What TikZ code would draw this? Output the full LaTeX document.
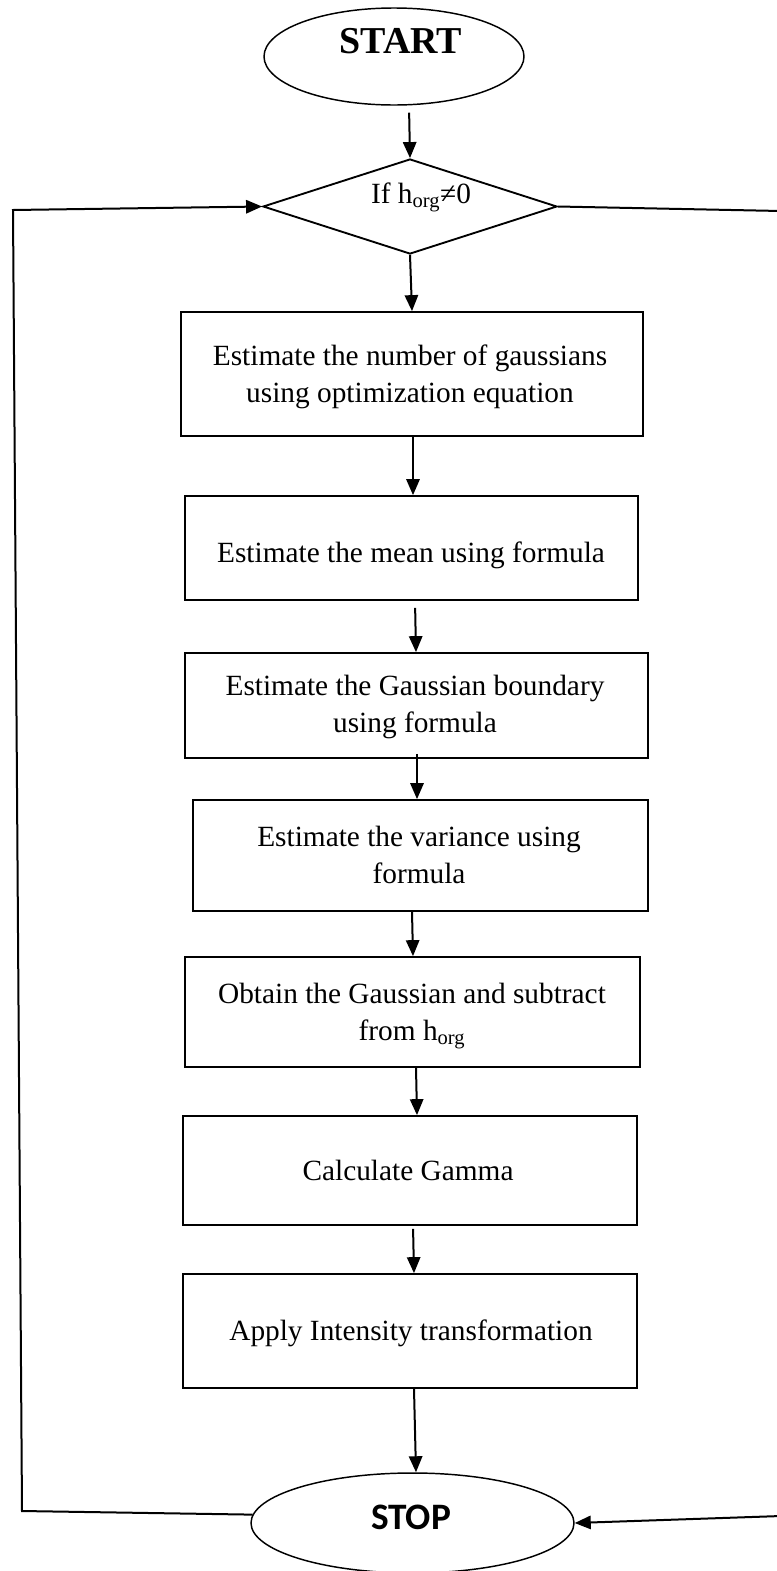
\documentclass[tikz,border=0pt]{standalone}
\usepackage{fontspec}
\setmainfont{Liberation Serif}
\newfontfamily\calib{Carlito}
\usetikzlibrary{shapes.geometric,arrows.meta}
\begin{document}
\begin{tikzpicture}[x=0.75pt,y=-0.75pt,
  box/.style={draw, rectangle, line width=1.3pt, inner sep=0pt},
  txt/.style={font=\fontsize{22}{27.75}\selectfont, align=center, inner sep=0pt},
  arr/.style={-{Triangle[length=12pt,width=10pt]}, line width=1.5pt},
  term/.style={draw, ellipse, line width=1.1pt, inner sep=0pt},
  decision/.style={draw, diamond, line width=1.4pt, inner sep=0pt}]
\useasboundingbox (0,0) rectangle (777,1571);
\fill[white] (0,0) rectangle (777,1571);

% terminals and decision
\node[term, minimum width=195pt, minimum height=72.75pt] (start) at (394,56.5) {};
\node[font=\fontsize{28.5}{30}\selectfont\bfseries, inner sep=0pt] (starttxt) at (401,41.5) {START};

\node[decision, minimum width=220.5pt, minimum height=71.25pt] (dia) at (410,206.5) {};
\node[txt, anchor=base] (diatxt) at (421,203) {If h\textsubscript{org}≠0};

% process boxes
\node[box, minimum width=346.5pt, minimum height=93pt] (b1) at (412,374) {};
\node[txt] (t1) at (410,376.7) {Estimate the number of gaussians\\using optimization equation};

\node[box, minimum width=339.75pt, minimum height=78pt] (b2) at (411.5,548) {};
\node[txt, anchor=base] (t2) at (411,562) {Estimate the mean using formula};

\node[box, minimum width=347.25pt, minimum height=78.75pt] (b3) at (416.5,705.5) {};
\node[txt] (t3) at (415,706.7) {Estimate the Gaussian boundary\\using formula};

\node[box, minimum width=341.25pt, minimum height=83.25pt] (b4) at (420.5,855.5) {};
\node[txt] (t4) at (419,855) {Estimate the variance using\\formula};

\node[box, minimum width=341.25pt, minimum height=82.5pt] (b5) at (412.5,1012) {};
\node[txt] (t5) at (412,1015.7) {Obtain the Gaussian and subtract\\from h\textsubscript{org}};

\node[box, minimum width=340.5pt, minimum height=81.75pt] (b6) at (410,1170.5) {};
\node[txt, anchor=base] (t6) at (408,1180) {Calculate Gamma};

\node[box, minimum width=340.5pt, minimum height=85.5pt] (b7) at (410,1331) {};
\node[txt, anchor=base] (t7) at (411,1340) {Apply Intensity transformation};

\node[term, minimum width=242.25pt, minimum height=75pt] (stop) at (412.5,1523) {};
\node[font=\calib\bfseries\fontsize{28}{30}\selectfont, inner sep=0pt] (stoptxt) at (411,1517) {STOP};

% main flow
\draw[arr, shorten <=5.25pt] (start.south -| 409,0) -- (dia.north);
\draw[arr] (dia.south) -- (b1.north -| 412,0);
\draw[arr] (b1.south -| 413,0) -- (b2.north -| 413,0);
\draw[arr, shorten <=5.25pt] (b2.south -| 415,0) -- (b3.north -| 416,0);
\draw[arr, shorten <=-3.75pt] (b3.south -| 417,0) -- (b4.north -| 417,0);
\draw[arr] (b4.south -| 412,0) -- (b5.north -| 413,0);
\draw[arr] (b5.south -| 416,0) -- (b6.north -| 417,0);
\draw[arr, shorten <=2.25pt] (b6.south -| 413,0) -- (b7.north -| 414,0);
\draw[arr] (b7.south -| 414,0) -- (stop.north -| 416,0);

% loop-back lines
\coordinate (L1) at (13,210);
\coordinate (L2) at (22,1511);
\draw[arr] (stop.177) -- (L2) -- (L1) -- (dia.west);

\coordinate (R1) at (781,211);
\coordinate (R2) at (781,1516);
\draw[arr] (dia.east) -- (R1) -- (R2) -- (stop.east);
\end{tikzpicture}
\end{document}
